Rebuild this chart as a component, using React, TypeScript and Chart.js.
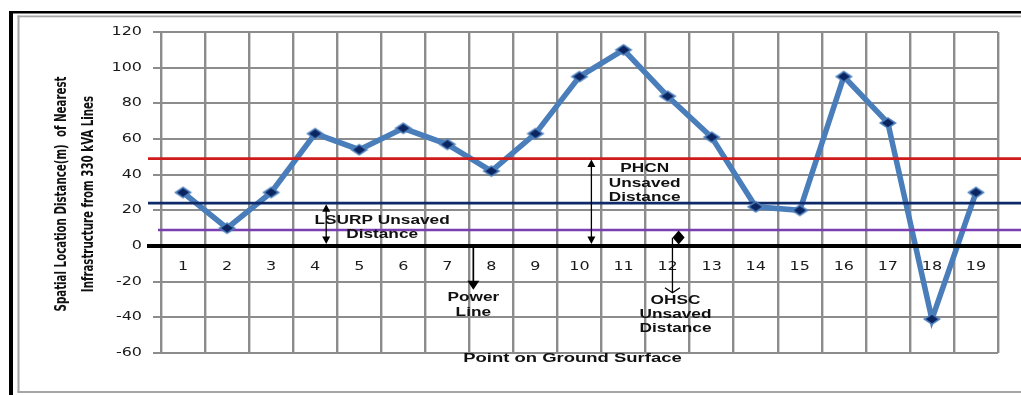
import React, { useEffect, useRef } from "react";
import { Chart, registerables } from "chart.js";

Chart.register(...registerables);

// ---------- data ----------
const CATEGORIES = ["1", "2", "3", "4", "5", "6", "7", "8", "9", "10", "11", "12", "13", "14", "15", "16", "17", "18", "19"];
const DISTANCES = [30, 10, 30, 63, 54, 66, 57, 42, 63, 95, 110, 84, 61, 22, 20, 95, 69, -41, 30];
const Y_MIN = -60;
const Y_MAX = 120;
const Y_STEP = 20;

const PHCN_LIMIT = 49;
const LSURP_LIMIT = 24;
const OHSC_LIMIT = 9;
const POWER_LINE = 0;

const Y_TITLE = ["Spatial Location Distance(m)  of Nearest", "Infrastructure from 330 kVA Lines"];
const X_TITLE = "Point on Ground Surface";

const LABEL_LSURP = ["LSURP Unsaved", "Distance"];
const LABEL_PHCN = ["PHCN", "Unsaved", "Distance"];
const LABEL_POWER = ["Power", "Line"];
const LABEL_OHSC = ["OHSC", "Unsaved", "Distance"];

// ---------- styles ----------
const SX = 1.36; // horizontal stretch of the original artwork's text
const GRID = "#8c8c8c";
const LINE_BLUE = "#4a7ebb";

function makeMarker(): HTMLCanvasElement {
  const c = document.createElement("canvas");
  c.width = 20;
  c.height = 14;
  const g = c.getContext("2d")!;
  const cx = 10, cy = 7;
  g.fillStyle = "#4f81bd";
  g.beginPath();
  g.moveTo(cx - 9, cy);
  g.lineTo(cx, cy - 6);
  g.lineTo(cx + 9, cy);
  g.lineTo(cx, cy + 6);
  g.closePath();
  g.fill();
  g.fillStyle = "#0b2560";
  g.beginPath();
  g.moveTo(cx - 6, cy);
  g.lineTo(cx, cy - 4.2);
  g.lineTo(cx + 6, cy);
  g.lineTo(cx, cy + 4.2);
  g.closePath();
  g.fill();
  return c;
}

function stretchedText(ctx: CanvasRenderingContext2D, text: string, x: number, y: number, font: string, align: CanvasTextAlign, sx = SX, color = "#111") {
  ctx.save();
  ctx.translate(x, y);
  ctx.scale(sx, 1);
  ctx.font = font;
  ctx.fillStyle = color;
  ctx.textAlign = align;
  ctx.textBaseline = "middle";
  ctx.fillText(text, 0, 0);
  ctx.restore();
}

function headFilled(ctx: CanvasRenderingContext2D, x: number, tipY: number, dir: number, w: number, len: number) {
  ctx.beginPath();
  ctx.moveTo(x, tipY);
  ctx.lineTo(x - w / 2, tipY - dir * len);
  ctx.lineTo(x + w / 2, tipY - dir * len);
  ctx.closePath();
  ctx.fill();
}

function drawRefLines(chart: any) {
  const ctx: CanvasRenderingContext2D = chart.ctx;
  const ys = chart.scales.y;
  const left = chart.chartArea.left;
  const W = chart.width;
  const refs = [
    { v: PHCN_LIMIT, color: "#cf1b1b", w: 2.6, off: -13 },
    { v: LSURP_LIMIT, color: "#0e2a68", w: 2.8, off: -13 },
    { v: OHSC_LIMIT, color: "#7a3fb0", w: 2.6, off: -3 },
    { v: POWER_LINE, color: "#000", w: 4.2, off: -14 },
  ];
  ctx.save();
  for (const r of refs) {
    const y = ys.getPixelForValue(r.v);
    ctx.strokeStyle = r.color;
    ctx.lineWidth = r.w;
    ctx.beginPath();
    ctx.moveTo(left + r.off, y);
    ctx.lineTo(W, y);
    ctx.stroke();
  }
  ctx.restore();
}

const decorPlugin = {
  id: "decor",
  beforeDraw(chart: any) {
    const ctx: CanvasRenderingContext2D = chart.ctx;
    const W = chart.width, H = chart.height;
    ctx.save();
    ctx.fillStyle = "#fff";
    ctx.fillRect(0, 0, W, H);
    // outer black frame
    ctx.fillStyle = "#000";
    ctx.fillRect(9, 11, 4, H - 11);
    ctx.fillRect(9, 11, W - 9, 2.5);
    // inner grey frame
    ctx.fillStyle = "#a6a6a6";
    ctx.fillRect(17.5, 15.5, 2, 377);
    ctx.fillRect(17.5, 15.5, W - 17.5, 1.8);
    ctx.fillRect(17.5, 391, W - 17.5, 2);
    ctx.restore();
  },
  afterDatasetDraw(chart: any, args: any) {
    // reference lines go above the series line but below the markers
    if (args.index === 1) drawRefLines(chart);
  },
  afterDraw(chart: any) {
    const ctx: CanvasRenderingContext2D = chart.ctx;
    const xs = chart.scales.x;
    const ys = chart.scales.y;
    const area = chart.chartArea;
    const px = (v: number) => xs.getPixelForValue(v);
    const py = (v: number) => ys.getPixelForValue(v);
    const tickFont = '12px "DejaVu Sans"';

    // y tick labels
    for (const t of ys.ticks) {
      stretchedText(ctx, String(t.value), area.left - 19, py(t.value), tickFont, "right", 1.33, "#1a1a1a");
    }
    // x tick labels (next to the zero axis)
    CATEGORIES.forEach((c, i) => {
      stretchedText(ctx, c, px(i), py(0) + 21, tickFont, "center", 1.33, "#1a1a1a");
    });

    // y title (rotated, stretched across its height)
    const midY = (area.top + area.bottom) / 2 + 1.5;
    const tx = [area.left - 99.5, area.left - 72];
    Y_TITLE.forEach((line, i) => {
      ctx.save();
      ctx.translate(tx[i], midY);
      ctx.rotate(-Math.PI / 2);
      ctx.scale(1, 1.38);
      ctx.font = 'bold 11.4px "Liberation Sans Narrow", "DejaVu Sans Condensed", "Liberation Sans"';
      ctx.fillStyle = "#111";
      ctx.textAlign = "center";
      ctx.textBaseline = "middle";
      ctx.fillText(line, 0, 0);
      ctx.restore();
    });

    // x title
    stretchedText(ctx, X_TITLE, px(8.84), area.bottom + 5, 'bold 13px "Liberation Sans"', "center", 1.42);

    // annotation texts
    const aFont = 'bold 12.5px "Liberation Sans"';
    const texts = [
      { lines: LABEL_LSURP, x: 4.52, y: [14.2, 6.3] },
      { lines: LABEL_PHCN, x: 10.48, y: [43.3, 34.9, 27.0] },
      { lines: LABEL_POWER, x: 6.59, y: [-28.9, -37.3] },
      { lines: LABEL_OHSC, x: 11.18, y: [-30.7, -38.5, -46.3] },
    ];
    for (const t of texts) {
      t.lines.forEach((l, i) => stretchedText(ctx, l, px(t.x), py(t.y[i]), aFont, "center", 1.38));
    }

    ctx.save();
    ctx.fillStyle = "#000";
    ctx.strokeStyle = "#000";
    // double arrows
    const dbl = [
      { x: 3.25, a: LSURP_LIMIT, b: POWER_LINE },
      { x: 9.27, a: PHCN_LIMIT, b: POWER_LINE },
    ];
    for (const d of dbl) {
      const x = px(d.x);
      const ya = py(d.a) + 1, yb = py(d.b) - 2;
      ctx.lineWidth = 1.3;
      ctx.beginPath();
      ctx.moveTo(x, ya + 6);
      ctx.lineTo(x, yb - 6);
      ctx.stroke();
      headFilled(ctx, x, ya, -1, 8, 7.5);
      headFilled(ctx, x, yb, 1, 8, 7.5);
    }
    // power line arrow
    {
      const x = px(6.59);
      const y0 = py(POWER_LINE);
      const tip = py(-24.5);
      ctx.lineWidth = 1.7;
      ctx.beginPath();
      ctx.moveTo(x, y0);
      ctx.lineTo(x, tip - 8);
      ctx.stroke();
      headFilled(ctx, x, tip, 1, 12, 9);
    }
    // OHSC open arrow + diamond
    {
      const x = px(11.11);
      const top = py(4.6);
      const tip = py(-26.2);
      ctx.lineWidth = 1.3;
      ctx.beginPath();
      ctx.moveTo(x, top);
      ctx.lineTo(x, tip);
      ctx.moveTo(x - 7.5, tip - 5);
      ctx.lineTo(x, tip);
      ctx.lineTo(x + 7.5, tip - 5);
      ctx.stroke();
      const dx = px(11.25), dy = py(4.8);
      ctx.beginPath();
      ctx.moveTo(dx - 6, dy);
      ctx.lineTo(dx, dy - 7);
      ctx.lineTo(dx + 6, dy);
      ctx.lineTo(dx, dy + 7);
      ctx.closePath();
      ctx.fill();
    }
    ctx.restore();
  },
};

export default function App() {
  const ref = useRef<HTMLCanvasElement | null>(null);

  useEffect(() => {
    document.body.style.margin = "0";
    document.body.style.overflow = "hidden";
    const canvas = ref.current!;
    const marker = makeMarker();
    const chart = new Chart(canvas, {
      type: "line",
      data: {
        labels: CATEGORIES,
        datasets: [
          {
            // markers (drawn on top)
            data: DISTANCES,
            showLine: false,
            pointStyle: marker as any,
            pointRadius: 6,
            pointHoverRadius: 6,
          },
          {
            // series line
            data: DISTANCES,
            borderColor: LINE_BLUE,
            borderWidth: 5.5,
            tension: 0,
            pointRadius: 0,
            pointHoverRadius: 0,
          },
        ],
      },
      options: {
        responsive: false,
        animation: false,
        devicePixelRatio: 1,
        layout: { padding: { left: 153, right: 23, top: 32, bottom: 42 } },
        plugins: { legend: { display: false }, tooltip: { enabled: false } },
        scales: {
          x: {
            type: "category",
            position: { y: 0 } as any,
            offset: true,
            grid: { offset: true, color: GRID, lineWidth: 2.4, drawTicks: false },
            border: { display: false },
            ticks: { display: false },
          },
          y: {
            min: Y_MIN,
            max: Y_MAX,
            ticks: { stepSize: Y_STEP, display: false },
            grid: { color: GRID, lineWidth: 2, tickLength: 8 },
            border: { display: true, color: GRID, width: 2 },
          },
        },
      },
      plugins: [decorPlugin],
    });
    return () => chart.destroy();
  }, []);

  return <canvas ref={ref} width={1021} height={395} style={{ display: "block" }} />;
}
